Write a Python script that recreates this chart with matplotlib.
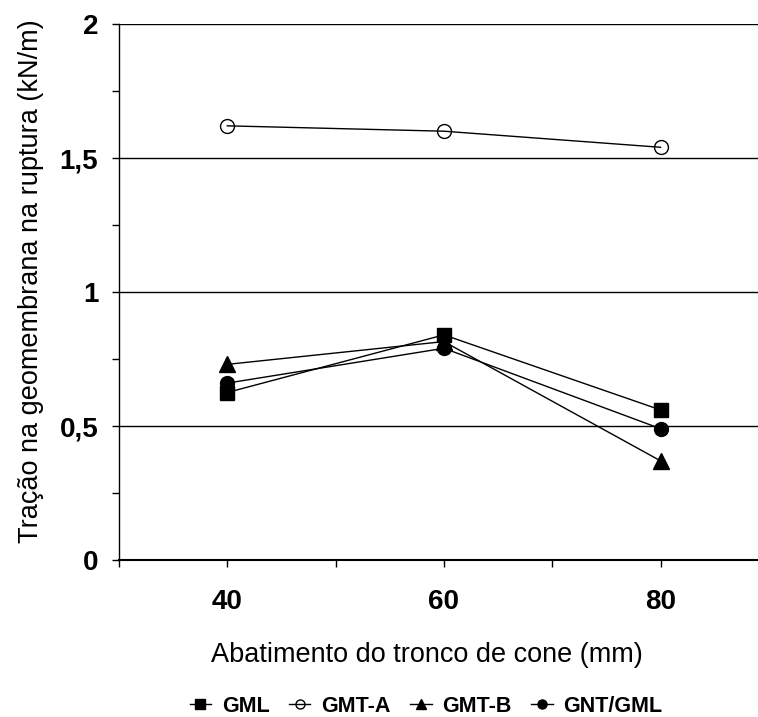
import matplotlib
matplotlib.use("Agg")
import matplotlib.pyplot as plt
from matplotlib.ticker import MultipleLocator

plt.rcParams['font.family'] = ['Liberation Sans', 'DejaVu Sans']

abatimento = [40, 60, 80]
gml = [0.625, 0.84, 0.56]
gmt_a = [1.62, 1.60, 1.54]
gmt_b = [0.73, 0.815, 0.37]
gnt_gml = [0.66, 0.79, 0.49]

fig = plt.figure(figsize=(7.58, 7.17), dpi=100)
ax = fig.add_axes([119 / 758, 1 - 560 / 717, 1 - 119 / 758, (560 - 24) / 717])

ax.plot(abatimento, gml, color='black', lw=1, marker='s', ms=10, mfc='black', label='GML')
ax.plot(abatimento, gmt_a, color='black', lw=1, marker='o', ms=10, mfc='none', mew=1, label='GMT-A')
ax.plot(abatimento, gmt_b, color='black', lw=1, marker='^', ms=11, mfc='black', label='GMT-B')
ax.plot(abatimento, gnt_gml, color='black', lw=1, marker='o', ms=10, mfc='black', label='GNT/GML')

ax.set_xlim(30, 89)
ax.set_ylim(0, 2)
ax.set_xticks([30, 40, 50, 60, 70, 80])
ax.set_xticklabels(['', '40', '', '60', '', '80'], fontsize=20, fontweight='bold')
ax.set_yticks([0, 0.5, 1, 1.5, 2])
ax.set_yticklabels(['0', '0,5', '1', '1,5', '2'], fontsize=20, fontweight='bold')
ax.yaxis.set_minor_locator(MultipleLocator(0.25))
ax.tick_params(axis='both', which='both', direction='out', length=5, width=1)
ax.tick_params(axis='x', pad=16)
ax.tick_params(axis='y', pad=10)

for y in [0.5, 1, 1.5, 2]:
    ax.axhline(y, color='black', lw=1, zorder=0)

for s in ['top', 'right']:
    ax.spines[s].set_visible(False)
ax.spines['left'].set_linewidth(1)
ax.spines['bottom'].set_linewidth(1.5)

ax.set_xlabel('Abatimento do tronco de cone (mm)', fontsize=19.5, va='center')
ax.xaxis.set_label_coords(0.482, -0.177)
ax.set_ylabel('Tração na geomembrana na ruptura (kN/m)', fontsize=19.5, va='center')
ax.yaxis.set_label_coords(-0.137, 0.52)

fig.legend(loc='center', bbox_to_anchor=(426 / 758, 1 - 706 / 717), ncol=4, frameon=False,
           prop={'weight': 'bold', 'size': 15.5}, handlelength=1.0, handletextpad=0.5,
           columnspacing=0.9, markerscale=0.65)

fig.savefig('out.png', dpi=100)
